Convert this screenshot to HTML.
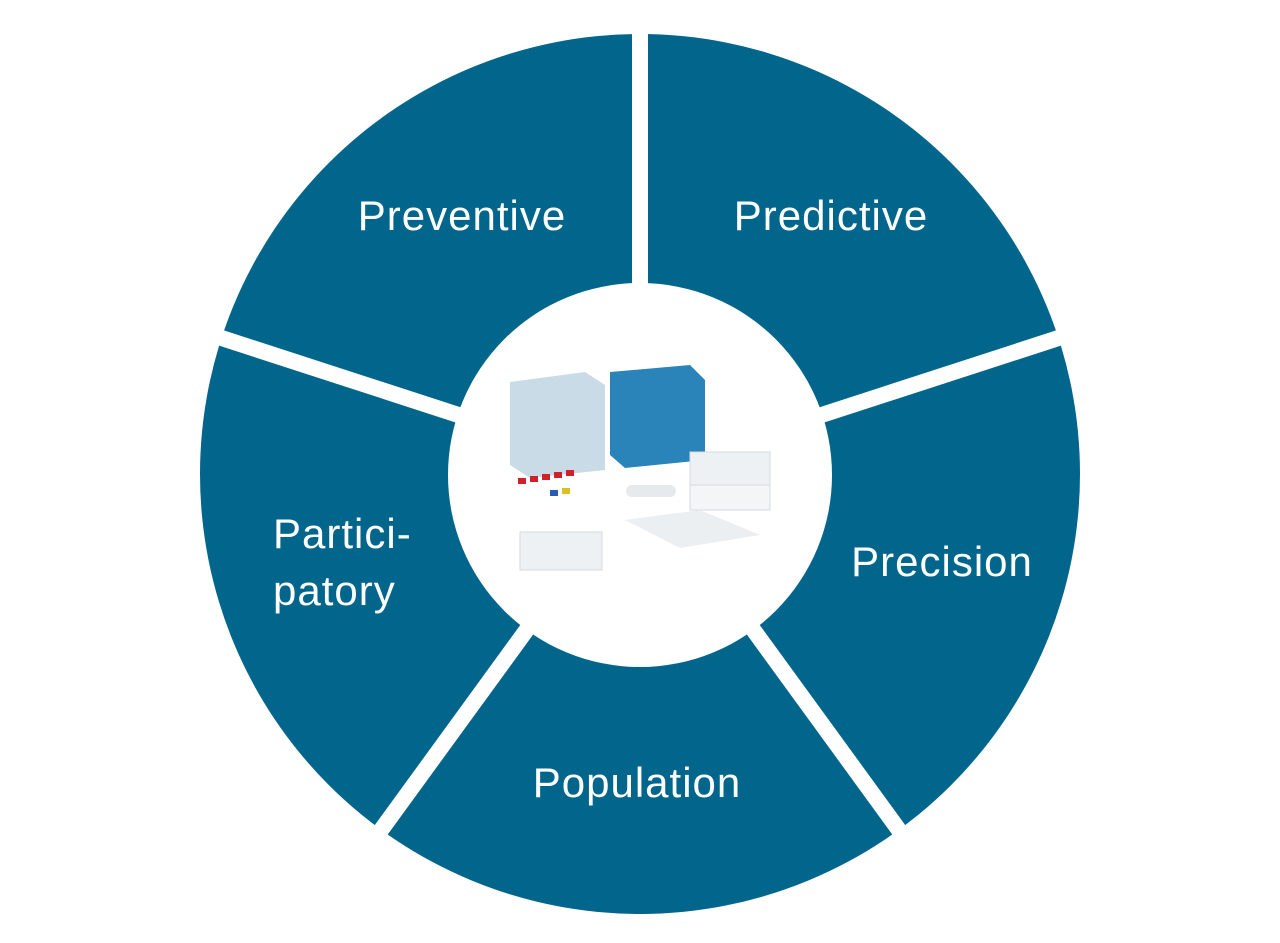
<!DOCTYPE html>
<html><head><meta charset="utf-8"><style>
html,body{margin:0;padding:0;background:#fff;}
svg{display:block}
text{font-family:"Liberation Sans",sans-serif;fill:#fff;font-size:42px;letter-spacing:1px}
</style></head><body>
<svg width="1280" height="943" viewBox="0 0 1280 943">
<circle cx="640" cy="474" r="440" fill="#02668c"/>
<g stroke="#fff" stroke-width="16">
<line x1="640" y1="474" x2="640" y2="20"/>
<line x1="640" y1="474" x2="1080" y2="331"/>
<line x1="640" y1="474" x2="912" y2="848"/>
<line x1="640" y1="474" x2="368" y2="848"/>
<line x1="640" y1="474" x2="200" y2="331"/>
</g>
<circle cx="640" cy="475" r="192" fill="#fff"/>
<g>
<polygon points="510,382 585,372 605,385 605,470 530,478 510,465" fill="#c9dbe6"/>
<polygon points="610,372 690,365 705,380 705,460 625,468 610,455" fill="#2a83b9"/>
<rect x="690" y="452" width="80" height="35" fill="#eef1f3" stroke="#d5dbdf"/>
<rect x="690" y="485" width="80" height="25" fill="#f3f5f6" stroke="#d5dbdf"/>
<polygon points="625,520 700,510 760,535 680,548" fill="#eceff1"/>
<rect x="520" y="532" width="82" height="38" fill="#eef1f3" stroke="#d5dbdf"/>
<g fill="#d0202a"><rect x="518" y="478" width="8" height="6"/><rect x="530" y="476" width="8" height="6"/><rect x="542" y="474" width="8" height="6"/><rect x="554" y="472" width="8" height="6"/><rect x="566" y="470" width="8" height="6"/></g>
<rect x="550" y="490" width="8" height="6" fill="#2a5db0"/><rect x="562" y="488" width="8" height="6" fill="#e0c020"/>
<rect x="626" y="485" width="50" height="12" rx="6" fill="#e6eaed"/>
</g>
<text x="462" y="230" text-anchor="middle">Preventive</text>
<text x="831" y="230" text-anchor="middle">Predictive</text>
<text x="942" y="576" text-anchor="middle">Precision</text>
<text x="637" y="797" text-anchor="middle">Population</text>
<text x="273" y="548">Partici-</text>
<text x="273" y="605">patory</text>
</svg>
</body></html>
